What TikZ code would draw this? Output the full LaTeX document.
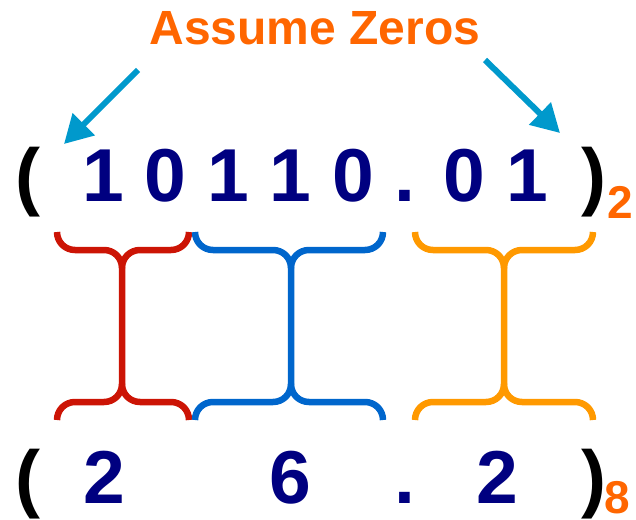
\documentclass[tikz,border=0pt]{standalone}
\usepackage{fontspec}
\setmainfont{Liberation Sans}
\usetikzlibrary{arrows.meta}

\definecolor{titleorange}{RGB}{255,102,0}
\definecolor{digitnavy}{RGB}{0,0,128}
\definecolor{arrowcyan}{RGB}{0,153,204}
\definecolor{groupred}{RGB}{204,20,5}
\definecolor{groupblue}{RGB}{0,102,204}
\definecolor{grouporange}{RGB}{255,153,0}

% one bracket group: #1 left end, #2 centre line, #3 right end, #4 colour
\newcommand\groupbrace[4]{%
  \draw[brace line,#4] (#1,232) .. controls (#1,242) and (#1+8,250) .. (#1+18,250) -- (#2-18,250)
     .. controls (#2-8,250) and (#2,258) .. (#2,268) -- (#2,384)
     .. controls (#2,394) and (#2-8,402) .. (#2-18,402) -- (#1+18,402)
     .. controls (#1+8,402) and (#1,410) .. (#1,420);
  \draw[brace line,#4] (#3,232) .. controls (#3,242) and (#3-8,250) .. (#3-18,250) -- (#2+18,250)
     .. controls (#2+8,250) and (#2,258) .. (#2,268)
     (#2,384) .. controls (#2,394) and (#2+8,402) .. (#2+18,402) -- (#3-18,402)
     .. controls (#3-8,402) and (#3,410) .. (#3,420);
}

\tikzset{
  bigtext/.style={inner sep=0pt, font=\bfseries\fontsize{75}{80}\selectfont},
  digits/.style={bigtext, text=digitnavy},
  paren/.style={bigtext, text=black},
  basemark/.style={inner sep=0pt, text=titleorange, font=\bfseries\fontsize{46}{50}\selectfont},
  title/.style={inner sep=0pt, text=titleorange, font=\bfseries\fontsize{48}{52}\selectfont},
  pointer/.style={draw=arrowcyan, line width=6pt, -{Triangle[length=28pt,width=30pt]}},
  brace line/.style={line width=6.5pt, line cap=butt}
}

\begin{document}
\begin{tikzpicture}[x=1pt,y=-1pt]
  \useasboundingbox (0,0) rectangle (636,519);

  % heading and its two pointers
  \node[title, anchor=base] (title) at (315,45) {Assume Zeros};
  \coordinate (lstart) at (138,70);
  \coordinate (ltip) at (64,144);
  \coordinate (rstart) at (485,60);
  \coordinate (rtip) at (560,133);
  \draw[pointer] (lstart) -- (ltip);
  \draw[pointer] (rstart) -- (rtip);

  % binary number
  \node[paren, anchor=base west] (lpar2) at (15,201) {(};
  \node[digits, anchor=base west] (bin) at (82,201) {1 0 1 1 0 . 0 1};
  \node[paren, anchor=base west] (rpar2) at (581,201) {)};
  \node[basemark, anchor=base west] (base2) at (607,218) {2};

  % groups of three bits
  \groupbrace{57}{122}{189}{groupred}
  \groupbrace{195}{291}{383}{groupblue}
  \groupbrace{415}{504}{593}{grouporange}

  % octal result
  \node[paren, anchor=base west] (lpar8) at (15,503) {(};
  \node[digits, anchor=base] (oct1) at (104.5,503) {2};
  \node[digits, anchor=base] (oct2) at (290,503) {6};
  \node[digits, anchor=base] (octpt) at (404.5,503) {.};
  \node[digits, anchor=base] (oct3) at (497.5,503) {2};
  \node[paren, anchor=base west] (rpar8) at (581,503) {)};
  \node[basemark, anchor=base west] (base8) at (604,513) {8};
\end{tikzpicture}
\end{document}
